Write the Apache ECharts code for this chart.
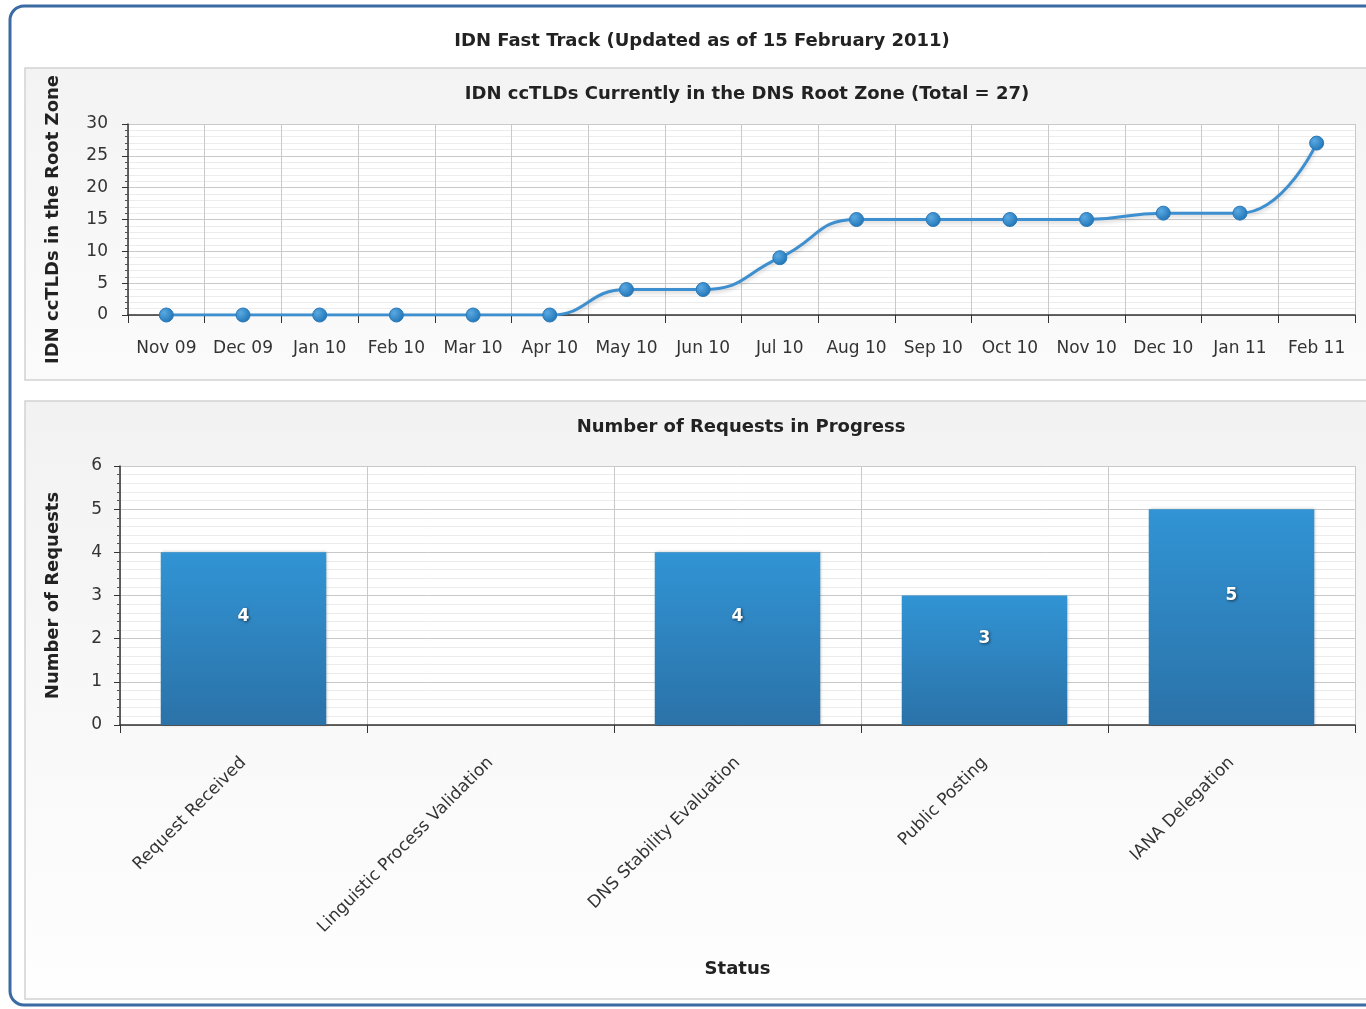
<!DOCTYPE html>
<html>
<head>
<meta charset="utf-8">
<script src="https://cdn.jsdelivr.net/npm/echarts@6/dist/echarts.min.js"></script>
<style>
  html, body { margin: 0; padding: 0; background: #fff; }
  #main { width: 1366px; height: 1009px; }
</style>
</head>
<body>
<div id="main"></div>
<script>
// top chart
const months = ['Nov 09', 'Dec 09', 'Jan 10', 'Feb 10', 'Mar 10', 'Apr 10', 'May 10', 'Jun 10',
  'Jul 10', 'Aug 10', 'Sep 10', 'Oct 10', 'Nov 10', 'Dec 10', 'Jan 11', 'Feb 11'];
const tldCounts = [0, 0, 0, 0, 0, 0, 4, 4, 9, 15, 15, 15, 15, 16, 16, 27];

// bottom chart
const statuses = ['Request Received', 'Linguistic Process Validation', 'DNS Stability Evaluation',
  'Public Posting', 'IANA Delegation'];
const requestCounts = [4, 0, 4, 3, 5];

const FONT = 'DejaVu Sans';
const gridLine = { show: true, interval: 0, lineStyle: { color: '#c9c9c9', width: 1 } };
const minorLine = { show: true, lineStyle: { color: '#ececec', width: 1 } };
const boldText = { fontSize: 18, fontWeight: 'bold', color: '#222', fontFamily: FONT };

const chart = echarts.init(document.getElementById('main'));

const option = {
  animation: false,
  textStyle: { fontFamily: FONT },
  graphic: [
    // outer frame
    { type: 'rect', shape: { x: 10, y: 6, width: 1400, height: 999, r: 14 },
      style: { fill: '#fff', stroke: '#3c6ba3', lineWidth: 3 }, z: -10 },
    // panels
    { type: 'rect', shape: { x: 25, y: 68, width: 1380, height: 312 },
      style: { fill: new echarts.graphic.LinearGradient(0, 0, 0, 1, [
        { offset: 0, color: '#f3f3f3' }, { offset: 1, color: '#fbfbfb' }]),
        stroke: '#d2d2d2', lineWidth: 1.5 }, z: -9 },
    { type: 'rect', shape: { x: 25, y: 401, width: 1380, height: 598 },
      style: { fill: new echarts.graphic.LinearGradient(0, 0, 0, 1, [
        { offset: 0, color: '#f2f2f2' }, { offset: 1, color: '#fefefe' }]),
        stroke: '#d2d2d2', lineWidth: 1.5 }, z: -9 }
  ],
  title: [
    { text: 'IDN Fast Track (Updated as of 15 February 2011)', left: 697, top: 27, textAlign: 'center',
      textStyle: boldText },
    { text: 'IDN ccTLDs Currently in the DNS Root Zone (Total = 27)', left: 742, top: 80, textAlign: 'center',
      textStyle: boldText },
    { text: 'Number of Requests in Progress', left: 736, top: 413, textAlign: 'center',
      textStyle: boldText }
  ],
  grid: [
    { left: 128, right: 11, top: 124, height: 191, show: true, backgroundColor: '#fff', borderWidth: 0 },
    { left: 120, right: 11, top: 466, height: 259, show: true, backgroundColor: '#fff', borderWidth: 0 }
  ],
  xAxis: [
    { type: 'category', gridIndex: 0, data: months, boundaryGap: true,
      axisLine: { lineStyle: { color: '#333', width: 1.5 } },
      axisTick: { show: true, interval: 0, length: 8, lineStyle: { color: '#333' } },
      axisLabel: { color: '#333', fontSize: 17, interval: 0, margin: 25, fontFamily: FONT },
      splitLine: gridLine },
    { type: 'category', gridIndex: 1, data: statuses, boundaryGap: true,
      name: 'Status', nameLocation: 'middle', nameGap: 235, nameTextStyle: boldText,
      axisLine: { lineStyle: { color: '#333', width: 1.5 } },
      axisTick: { show: true, interval: 0, length: 8, lineStyle: { color: '#333' } },
      axisLabel: { color: '#333', fontSize: 17, interval: 0, rotate: 45, margin: 35, fontFamily: FONT },
      splitLine: gridLine }
  ],
  yAxis: [
    { type: 'value', gridIndex: 0, min: 0, max: 30, interval: 5,
      name: 'IDN ccTLDs in the Root Zone', nameLocation: 'middle', nameGap: 66, nameTextStyle: boldText,
      axisLine: { show: true, lineStyle: { color: '#333', width: 1.5 } },
      axisTick: { show: true, length: 6, lineStyle: { color: '#333' } },
      minorTick: { show: true, splitNumber: 5, length: 3, lineStyle: { color: '#555' } },
      minorSplitLine: minorLine,
      axisLabel: { color: '#333', fontSize: 17, margin: 20, fontFamily: FONT },
      splitLine: gridLine },
    { type: 'value', gridIndex: 1, min: 0, max: 6, interval: 1,
      name: 'Number of Requests', nameLocation: 'middle', nameGap: 58, nameTextStyle: boldText,
      axisLine: { show: true, lineStyle: { color: '#333', width: 1.5 } },
      axisTick: { show: true, length: 6, lineStyle: { color: '#333' } },
      minorTick: { show: true, splitNumber: 5, length: 3, lineStyle: { color: '#555' } },
      minorSplitLine: minorLine,
      axisLabel: { color: '#333', fontSize: 17, margin: 18, fontFamily: FONT },
      splitLine: gridLine }
  ],
  series: [
    {
      type: 'line', xAxisIndex: 0, yAxisIndex: 0, data: tldCounts,
      smooth: 0.5, symbol: 'circle', symbolSize: 14,
      lineStyle: { color: '#3d8fcf', width: 3, shadowColor: 'rgba(0,0,0,0.2)', shadowBlur: 4, shadowOffsetY: 2 },
      itemStyle: {
        color: new echarts.graphic.RadialGradient(0.35, 0.35, 0.7, [
          { offset: 0, color: '#5aa9e2' }, { offset: 1, color: '#1f74b5' }]),
        borderColor: '#2a78b8', borderWidth: 1
      }
    },
    {
      type: 'bar', xAxisIndex: 1, yAxisIndex: 1, data: requestCounts,
      barWidth: '67%',
      itemStyle: {
        color: new echarts.graphic.LinearGradient(0, 0, 0, 1, [
          { offset: 0, color: '#3194d4' }, { offset: 1, color: '#2b72a8' }]),
        borderWidth: 0,
        shadowColor: 'rgba(0,0,0,0.25)', shadowBlur: 3, shadowOffsetX: 1
      },
      label: {
        show: true, position: 'inside', offset: [0, -22],
        formatter: (p) => (p.value > 0 ? p.value : ''),
        color: '#fff', fontSize: 17, fontWeight: 'bold', fontFamily: FONT,
        textShadowColor: 'rgba(0,0,0,0.6)', textShadowBlur: 3, textShadowOffsetX: 1, textShadowOffsetY: 1
      }
    }
  ]
};

chart.setOption(option);
</script>
</body>
</html>
